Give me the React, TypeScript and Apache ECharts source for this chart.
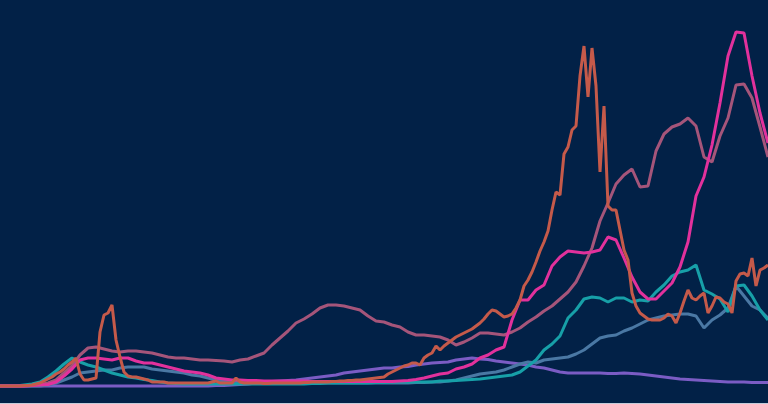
import React, { useEffect, useRef } from "react";
import * as echarts from "echarts";

// daily time axis: 193 samples; orange is sampled every day, the rest every second day
const days: string[] = Array.from({ length: 193 }, (_, i) => `D${i}`);

const orange = [0,0,0,0,0,0,0.5,0.5,1,2,
3,5,7,9,12,14,17,21,24,28,
12,6,6,7,8,54,71,73,81,46,
29,14,10,9,9,8,7,6,4,4,
4,4,3,3,3,3,3,3,3,3,
3,3,3,4,5,3,3,3,3,8,
4,3,3,3,3,3,2.5,2.5,3,3,
3,3,3,3,3,3,3.5,3.5,4,4,
4,4,4,4.5,4.5,5,5,5.5,5.5,6,
6,6.5,7,7.5,8,8.5,9,12,14,16,
18,20,21,23,23,21,28,31,33,40,
36,40,43,46,49,51,53,55,57,60,
63,67,72,76,75,72,69,70,72,78,
86,100,106,114,124,135,144,155,176,194,
191,232,239,256,260,310,340,289,338,300,
214,280,180,176,176,156,136,126,93,80,
73,70,67,66,66,66,68,72,70,63,
73,85,96,88,86,90,93,73,80,89,
88,84,82,73,105,112,113,110,128,100,
116,118,121];

const magenta = [0,0,0,0,0.5,1,1.5,4,10,17,
26,28,28,27,26,28,28,25,23,23,
21,19,17,15,14,13,11,8,7,6,
6,5.5,5.5,5,5,5,5,5,5,4.5,
4.5,4.5,4.5,4.5,4.5,4.5,4.5,4.5,4.5,4.5,
5,5.5,6.5,8,10,12,13,17,19,22,
28,31,36,39,66,86,86,96,101,120,
129,135,134,133,134,136,149,146,128,109,
94,87,87,95,103,119,144,190,209,241,
283,330,354,353,310,273,243];

const mauve = [0,0,0,0,0.5,1.5,3,6,13,20,
31,38,39,37,35,34,35,35,34,33,
31,29,28,28,27,26,26,25.5,25,24,
26,27,30,33,41,48,55,63,67,72,
78,81,81,80,78,76,70,65,64,61,
59,54,51,51,50,49,46,41,44,48,
53,53,52,51,54,58,64,69,75,80,
87,94,104,120,138,165,183,202,211,217,
199,200,235,252,259,262,268,260,229,224,
250,268,301,302,288,259,229];

const teal = [0,0,0,1,2,4,9,15,22,28,
24,21,19,16,13,11,9,8,6.5,5.5,
4,3,2.5,2,2,2,2,2,2,2,
2,2,2,2,2,2,2,2,2,2.5,
2.5,3,3,3,3,3,3,3.5,3.5,4,
4,4,4,4,4,5,5,5.5,6,6.5,
7,8,9,10,11,14,20,26,36,42,
50,68,76,87,89,88,84,88,88,84,
86,85,94,101,110,114,116,121,96,92,
87,74,100,101,90,76,66];

const steel = [0,0,0,0,0,0,1,3,6,9,
13,14,15,16,16,18,19,19,19,17,
16,15,14,13,11,10,8,6,5,4,
3.5,3,3,3,3,3,3,3,3,3,
3,3,3,3,3,3,3,3,3,3,
3,3,3.5,3.5,4,4,5,6,8,10,
12,13,14,16,19,22,24,23,26,27,
28,29,32,36,42,48,50,51,55,58,
62,66,68,70,71,72,72,70,58,66,
71,78,100,90,80,76,68];

const purple = [0,0,0,0,0,0,0,0,0,0,
0,0,0,0,0,0,0,0,0,0,
0,0,0,0,0,0,0,0.5,0.5,1,
1.5,2,3,4,4.5,5,5.5,6,7,8,
9,10,11,13,14,15,16,17,18,18,
19,19.5,21,22,23,23.5,24,26,27,28,
27,26.5,25,24,23,22,21,19,18,16,
14,13,13,13,13,13,12.5,12.5,13,12.5,
12,11,10,9,8,7,6.5,6,5.5,5,
4.5,4,4,4,3.5,3.5,3.5];

// series sampled every second day: place values on even days, gaps elsewhere
const everyOther = (arr: number[]) =>
  arr.flatMap((v, i) => (i < arr.length - 1 ? [v, null] : [v]));

const seriesDefs = [
  { name: "purple", data: everyOther(purple), color: "#7b5cc4" },
  { name: "steel", data: everyOther(steel), color: "#4a78a4" },
  { name: "teal", data: everyOther(teal), color: "#17a0a8" },
  { name: "mauve", data: everyOther(mauve), color: "#a5557a" },
  { name: "magenta", data: everyOther(magenta), color: "#e2319c" },
  { name: "orange", data: orange, color: "#c55a4a" },
];

export default function App() {
  const ref = useRef<HTMLDivElement>(null);
  useEffect(() => {
    if (!ref.current) return;
    const chart = echarts.init(ref.current, undefined, { renderer: "svg" });
    chart.setOption({
      animation: false,
      backgroundColor: "#022147",
      grid: { left: 0, right: 0, top: 0, bottom: 18 },
      xAxis: {
        type: "category",
        data: days,
        boundaryGap: false,
        show: false,
      },
      yAxis: { type: "value", min: 0, max: 386, show: false },
      graphic: [
        {
          type: "rect",
          shape: { x: 0, y: 403, width: 768, height: 1 },
          style: { fill: "#c3ccd9" },
          silent: true,
        },
      ],
      series: seriesDefs.map((s) => ({
        type: "line",
        name: s.name,
        data: s.data,
        connectNulls: true,
        symbol: "none",
        clip: false,
        lineStyle: { color: s.color, width: 3 },
        itemStyle: { color: s.color },
        silent: true,
      })),
    });
    return () => chart.dispose();
  }, []);
  return (
    <div
      ref={ref}
      style={{ position: "fixed", left: 0, top: 0, width: 768, height: 404 }}
    />
  );
}
